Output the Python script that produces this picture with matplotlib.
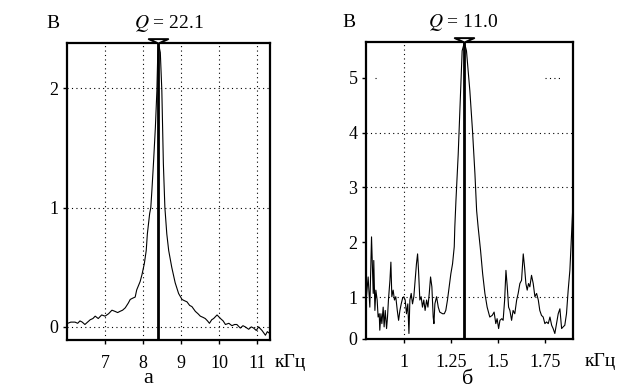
import numpy as np
import matplotlib
matplotlib.use("Agg")
import matplotlib.pyplot as plt
from matplotlib.path import Path

plt.rcParams['font.family'] = ['Liberation Serif', 'DejaVu Serif']

# panel a: resonance near 8.4 kHz
freq_a = [6.02, 6.10, 6.21, 6.28, 6.34, 6.40, 6.47, 6.54, 6.61, 6.68, 6.74, 6.82, 6.91, 7.00,
          7.09, 7.18, 7.26, 7.33, 7.39, 7.46, 7.53, 7.61, 7.66, 7.72, 7.79, 7.83, 7.92, 7.97,
          8.03, 8.08, 8.11, 8.17, 8.20, 8.23, 8.27, 8.32, 8.36, 8.38, 8.40, 8.45, 8.49, 8.53,
          8.57, 8.62, 8.67, 8.75, 8.84, 8.93, 9.02, 9.08, 9.15, 9.22, 9.28, 9.37, 9.44, 9.50,
          9.57, 9.63, 9.69, 9.74, 9.80, 9.85, 9.94, 10.03, 10.10, 10.16, 10.25, 10.33, 10.40,
          10.46, 10.55, 10.62, 10.68, 10.77, 10.84, 10.90, 10.97, 11.03, 11.12, 11.21, 11.26, 11.30]
amp_a = [0.03, 0.04, 0.04, 0.03, 0.05, 0.04, 0.02, 0.04, 0.06, 0.07, 0.09, 0.07, 0.10, 0.09,
         0.11, 0.14, 0.13, 0.12, 0.13, 0.14, 0.16, 0.20, 0.23, 0.24, 0.25, 0.31, 0.38, 0.44,
         0.53, 0.64, 0.78, 0.95, 1.00, 1.15, 1.37, 1.67, 1.98, 2.25, 2.38, 2.30, 1.98, 1.37,
         1.00, 0.78, 0.64, 0.50, 0.37, 0.28, 0.23, 0.22, 0.21, 0.18, 0.17, 0.13, 0.11, 0.09,
         0.08, 0.07, 0.05, 0.03, 0.06, 0.07, 0.10, 0.07, 0.05, 0.02, 0.03, 0.01, 0.02,
         0.02, -0.01, 0.01, 0.00, -0.02, 0.00, -0.01, -0.03, 0.00, -0.03, -0.07, -0.04, -0.05]
peak_a = 8.40
q_a = 22.1

# panel b: resonance near 1.32 kHz
freq_b = [0.798, 0.801, 0.810, 0.819, 0.828, 0.837, 0.840, 0.846, 0.851, 0.858, 0.863, 0.869,
          0.872, 0.878, 0.883, 0.890, 0.895, 0.901, 0.908, 0.913, 0.918, 0.926, 0.931, 0.936,
          0.943, 0.950, 0.957, 0.965, 0.972, 0.979, 0.986, 0.993, 1.000, 1.007, 1.014, 1.021,
          1.027, 1.032, 1.039, 1.046, 1.053, 1.060, 1.067, 1.073, 1.078, 1.085, 1.092, 1.099,
          1.106, 1.113, 1.121, 1.128, 1.135, 1.142, 1.149, 1.156, 1.160, 1.165, 1.174, 1.183,
          1.191, 1.206, 1.215, 1.223, 1.232, 1.241, 1.250, 1.259, 1.268, 1.271, 1.277, 1.289,
          1.302, 1.310, 1.322, 1.333, 1.351, 1.365, 1.378, 1.387, 1.395, 1.408, 1.419, 1.431,
          1.443, 1.457, 1.470, 1.480, 1.489, 1.496, 1.504, 1.511, 1.521, 1.528, 1.536, 1.543,
          1.550, 1.557, 1.564, 1.573, 1.581, 1.590, 1.600, 1.608, 1.617, 1.626, 1.635, 1.642,
          1.649, 1.656, 1.663, 1.670, 1.679, 1.688, 1.697, 1.706, 1.715, 1.723, 1.732, 1.741,
          1.750, 1.759, 1.768, 1.777, 1.786, 1.794, 1.803, 1.812, 1.821, 1.830, 1.839, 1.847,
          1.856, 1.865, 1.874, 1.883, 1.888, 1.894, 1.898]
amp_b = [1.55, 1.01, 1.37, 0.82, 2.10, 1.07, 1.67, 0.76, 1.13, 0.95, 0.64, 0.70,
         0.40, 0.70, 0.52, 0.82, 0.46, 0.76, 0.43, 0.64, 0.95, 1.31, 1.64, 1.01,
         1.13, 0.95, 1.01, 0.76, 0.58, 0.76, 0.88, 0.98, 1.01, 0.95, 0.70, 0.88,
         0.34, 0.95, 1.07, 0.88, 1.01, 1.31, 1.61, 1.79, 1.49, 0.95, 1.01, 0.82,
         0.95, 0.76, 0.95, 0.82, 1.07, 1.37, 1.19, 0.64, 0.52, 0.88, 1.01, 0.82,
         0.73, 0.70, 0.70, 0.76, 0.95, 1.19, 1.43, 1.61, 1.92, 2.28, 2.76, 3.60,
         4.76, 5.49, 5.64, 5.49, 4.76, 4.04, 3.25, 2.58, 2.28, 1.85, 1.43, 1.07,
         0.82, 0.64, 0.67, 0.73, 0.52, 0.61, 0.43, 0.58, 0.61, 0.58, 0.95, 1.49,
         1.19, 0.82, 0.76, 0.58, 0.76, 0.70, 0.95, 1.07, 1.25, 1.31, 1.79, 1.55,
         1.25, 1.13, 1.25, 1.19, 1.40, 1.25, 1.01, 1.07, 0.95, 0.76, 0.67, 0.64,
         0.52, 0.55, 0.52, 0.64, 0.49, 0.43, 0.34, 0.52, 0.70, 0.79, 0.43, 0.46,
         0.49, 0.70, 1.13, 1.49, 1.85, 2.28, 2.60]
peak_b = 1.32
q_b = 11.0

xticks_a = [7, 8, 9, 10, 11]
yticks_a = [0, 1, 2]
xticks_b = [1, 1.25, 1.5, 1.75]
xticklabels_b = ['1', '1.25', '1.5', '1.75']
yticks_b = [0.24, 1, 2, 3, 4, 5]
yticklabels_b = ['0', '1', '2', '3', '4', '5']

# downward triangle whose tip sits on the data point
tri = Path([(-1, 0.45), (1, 0.45), (0, 0), (-1, 0.45)],
           [Path.MOVETO, Path.LINETO, Path.LINETO, Path.CLOSEPOLY])

fig = plt.figure(figsize=(6.17, 3.90), dpi=100)
ax1 = fig.add_axes([0.1086, 0.1282, 0.329, 0.7615])
ax2 = fig.add_axes([0.593, 0.1308, 0.3355, 0.7615])

dot = (0, (1, 3))


def style(ax):
    for s in ax.spines.values():
        s.set_linewidth(1.6)
    ax.tick_params(direction='out', length=3, width=1, labelsize=13, pad=3)
    ax.tick_params(axis='x', pad=8)


# ---- panel a
ax1.plot(freq_a, amp_a, color='black', lw=0.8)
ax1.set_xlim(6.0, 11.33)
ax1.set_ylim(-0.11, 2.38)
ax1.set_xticks(xticks_a)
ax1.set_yticks(yticks_a)
for v in xticks_a:
    ax1.axvline(v, color='black', lw=0.8, ls=dot, zorder=0)
for v in yticks_a:
    ax1.axhline(v, color='black', lw=0.8, ls=dot, zorder=0)
ax1.axvline(peak_a, color='black', lw=2.0)
ax1.plot([peak_a], [2.38], marker=tri, ms=14, mfc='white', mec='black', mew=1.4,
         clip_on=False, zorder=5)
style(ax1)
ax1.text(-0.07, 1.065, 'В', transform=ax1.transAxes, fontsize=14, ha='center', va='center')
ax1.text(0.5, 1.065, f'$Q$ = {q_a}', transform=ax1.transAxes, fontsize=14,
         ha='center', va='center', math_fontfamily='stix')
ax1.text(1.025, -0.075, 'кГц', transform=ax1.transAxes, fontsize=14, ha='left', va='center')
ax1.text(0.4, -0.146, 'а', transform=ax1.transAxes, fontsize=16, ha='center', va='baseline')

# ---- panel b
ax2.plot(freq_b, amp_b, color='black', lw=0.8)
ax2.set_xlim(0.798, 1.899)
ax2.set_ylim(0.24, 5.65)
ax2.set_xticks(xticks_b)
ax2.set_xticklabels(xticklabels_b)
ax2.set_yticks(yticks_b)
ax2.set_yticklabels(yticklabels_b)
ax2.axvline(1.0, color='black', lw=0.8, ls=dot, zorder=0)
for v in [1, 3, 4]:
    ax2.axhline(v, color='black', lw=0.8, ls=dot, zorder=0)
ax2.hlines(5, 1.75, 1.84, color='black', lw=0.8, ls=dot, zorder=0)
ax2.hlines(5, 0.845, 0.86, color='black', lw=0.8, ls=dot, zorder=0)
ax2.axvline(peak_b, color='black', lw=2.0)
ax2.plot([peak_b], [5.65], marker=tri, ms=14, mfc='white', mec='black', mew=1.4,
         clip_on=False, zorder=5)
style(ax2)
ax2.text(-0.08, 1.065, 'В', transform=ax2.transAxes, fontsize=14, ha='center', va='center')
ax2.text(0.47, 1.065, f'$Q$ = {q_b}', transform=ax2.transAxes, fontsize=14,
         ha='center', va='center', math_fontfamily='stix')
ax2.text(1.055, -0.075, 'кГц', transform=ax2.transAxes, fontsize=14, ha='left', va='center')
ax2.text(0.49, -0.15, 'б', transform=ax2.transAxes, fontsize=16, ha='center', va='baseline')

fig.savefig('out.png', dpi=100)
